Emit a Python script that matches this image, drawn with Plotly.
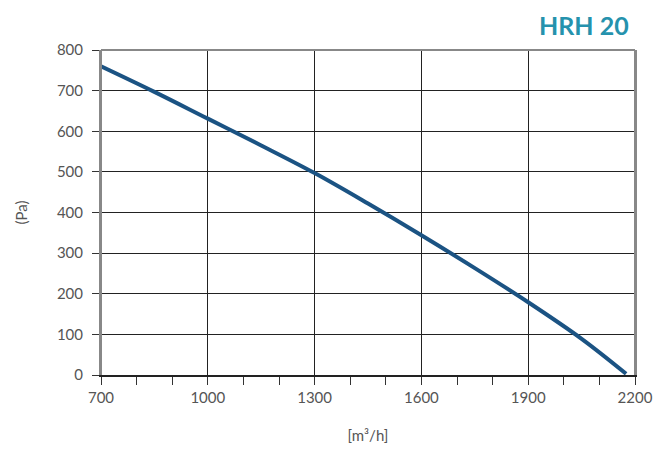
import plotly.graph_objects as go

airflow = [700, 850, 1000, 1150, 1300, 1450, 1600, 1750, 1900, 2050, 2175]
pressure = [760, 697, 631, 565, 497, 422, 344, 263, 179, 89, 3]

x_ticks = [700, 1000, 1300, 1600, 1900, 2200]
y_ticks = [0, 100, 200, 300, 400, 500, 600, 700, 800]

title_text = "HRH 20"
x_title = "[m³/h]"
y_title = "(Pa)"

fig = go.Figure()
fig.add_trace(go.Scatter(
    x=airflow, y=pressure, mode="lines",
    line=dict(color="#1b5383", width=4, shape="spline", smoothing=1.0),
    hoverinfo="skip", showlegend=False,
))

tickfont = dict(family="Lato, sans-serif", size=15, color="#555555")

fig.update_layout(
    width=655, height=451,
    margin=dict(l=101, r=20, t=50, b=76, autoexpand=False),
    paper_bgcolor="white", plot_bgcolor="white",
    font=dict(family="Lato, sans-serif"),
    annotations=[
        dict(text=f"<b>{title_text}</b>", xref="paper", yref="paper",
             x=1.0 + (631 - 635) / 534, y=1 + (50 - 25) / 325,
             showarrow=False, font=dict(size=25, color="#2592ad", family="Lato, sans-serif"),
             xanchor="right", yanchor="middle"),
    ],
)

fig.update_xaxes(
    range=[700, 2200], tickvals=x_ticks, ticktext=[str(v) for v in x_ticks],
    showgrid=True, gridcolor="#222222", gridwidth=1,
    ticks="outside", ticklen=8, tickcolor="#333333", tickwidth=1,
    minor=dict(dtick=100, tick0=700, ticks="outside", ticklen=8, tickcolor="#333333", showgrid=False),
    showline=True, linecolor="#222222", linewidth=1.5,
    zeroline=False, tickfont=tickfont, automargin=False,
    title=dict(text=x_title, font=dict(size=15, color="#555555"), standoff=26),
)
fig.update_yaxes(
    range=[0, 800], tickvals=y_ticks,
    showgrid=True, gridcolor="#222222", gridwidth=1,
    ticks="outside", ticklen=7, tickcolor="#333333",
    showline=True, linecolor="#888888", linewidth=2, mirror=True,
    zeroline=False, tickfont=tickfont, ticklabelstandoff=6, automargin=False,
    title=dict(text=y_title, font=dict(size=15, color="#555555"), standoff=26),
)
fig.add_shape(type="line", xref="paper", yref="paper", x0=0, x1=1, y0=1, y1=1,
              line=dict(color="#888888", width=2))
fig.add_shape(type="line", xref="paper", yref="paper", x0=0, x1=0, y0=0, y1=1,
              line=dict(color="#888888", width=2))
fig.add_shape(type="line", xref="paper", yref="paper", x0=1, x1=1, y0=0, y1=1,
              line=dict(color="#888888", width=2))

fig.write_html("out.html")
